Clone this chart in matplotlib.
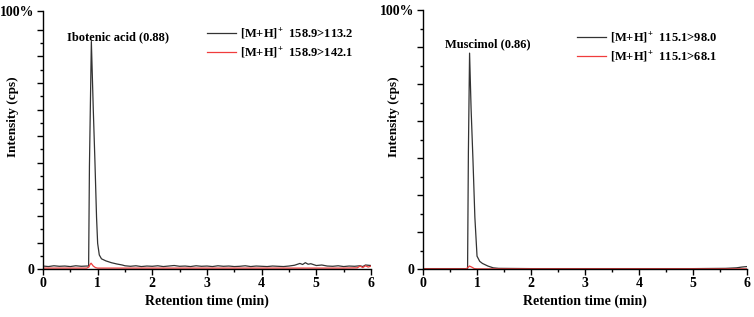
import matplotlib.pyplot as plt
import numpy as np

plt.rcParams['font.family'] = ['Liberation Serif', 'DejaVu Serif']
plt.rcParams['font.weight'] = 'bold'
plt.rcParams['mathtext.fontset'] = 'custom'
plt.rcParams['mathtext.rm'] = 'Liberation Serif:bold'
plt.rcParams['mathtext.bf'] = 'Liberation Serif:bold'
plt.rcParams['mathtext.default'] = 'bf'

# ---- Ibotenic acid (left panel), intensity as fraction of 100% ----
ibo_t = [0, 0.1, 0.2, 0.3, 0.4, 0.5, 0.6, 0.7, 0.8, 0.835, 0.85, 0.885,
         0.92, 0.95, 0.98, 1.0, 1.03, 1.07, 1.15, 1.25, 1.35, 1.45, 1.5,
         1.6, 1.7, 1.8, 1.9, 2.0, 2.1, 2.2, 2.3, 2.4, 2.5, 2.6, 2.7, 2.8, 2.9,
         3.0, 3.1, 3.2, 3.3, 3.4, 3.5, 3.6, 3.7, 3.8, 3.9, 4.0, 4.1, 4.2, 4.3,
         4.4, 4.5, 4.6, 4.7, 4.75, 4.8, 4.85, 4.9, 5.0, 5.1, 5.2, 5.3, 5.4,
         5.5, 5.6, 5.7, 5.8, 5.85, 5.9, 6.0]
ibo_main = [0.012, 0.010, 0.013, 0.011, 0.012, 0.010, 0.013, 0.011, 0.012, 0.012,
            0.40, 0.882, 0.62, 0.42, 0.20, 0.10, 0.055, 0.040, 0.032, 0.025,
            0.020, 0.016, 0.013,
            0.011, 0.013, 0.010, 0.012, 0.011, 0.013, 0.010, 0.012, 0.014, 0.011,
            0.012, 0.010, 0.013, 0.011, 0.012, 0.010, 0.013, 0.011, 0.012, 0.010,
            0.011, 0.013, 0.010, 0.012, 0.011, 0.010, 0.012, 0.011, 0.010, 0.012,
            0.015, 0.022, 0.018, 0.025, 0.019, 0.021, 0.014, 0.016, 0.012, 0.011,
            0.013, 0.010, 0.012, 0.011, 0.013, 0.010, 0.016, 0.014]
ibo_red_t = [0, 0.4, 0.8, 0.84, 0.86, 0.88, 0.92, 0.96, 1.0, 1.5, 2.0, 2.5,
             3.0, 3.5, 4.0, 4.5, 5.0, 5.5, 5.75, 5.8, 5.85, 5.9, 5.95, 6.0]
ibo_red = [0.004, 0.004, 0.004, 0.008, 0.018, 0.023, 0.012, 0.006, 0.004, 0.004,
           0.004, 0.004, 0.004, 0.004, 0.004, 0.004, 0.004, 0.004, 0.005, 0.012,
           0.006, 0.013, 0.008, 0.012]

# ---- Muscimol (right panel) ----
mus_t = [0, 0.5, 0.8, 0.825, 0.84, 0.862, 0.89, 0.925, 0.96, 1.0, 1.05, 1.1,
         1.2, 1.3, 1.4, 2.0, 3.0, 4.0, 5.0, 5.6, 5.8, 5.9, 6.0]
mus_main = [0.002, 0.002, 0.002, 0.002, 0.45, 0.834, 0.62, 0.42, 0.20, 0.05,
            0.030, 0.022, 0.012, 0.005, 0.003, 0.002, 0.002, 0.002, 0.002,
            0.003, 0.005, 0.008, 0.010]
mus_red_t = [0, 0.8, 0.84, 0.86, 0.9, 0.95, 1.0, 6.0]
mus_red = [0.001, 0.001, 0.008, 0.012, 0.008, 0.002, 0.001, 0.001]

panels = [
    dict(t=ibo_t, y=ibo_main, rt=ibo_red_t, ry=ibo_red, n=9.7,
         name='Ibotenic acid (0.88)', name_xy=(1.37, 0.90),
         labels=['[M+H]$^{+}$  158.9>113.2', '[M+H]$^{+}$  158.9>142.1'],
         leg_anchor=(0.467, 0.983),
         rect=[0.057, 0.151, 0.435, 0.814]),
    dict(t=mus_t, y=mus_main, rt=mus_red_t, ry=mus_red, n=7,
         name='Muscimol (0.86)', name_xy=(1.2, 0.87),
         labels=['[M+H]$^{+}$  115.1>98.0', '[M+H]$^{+}$  115.1>68.1'],
         leg_anchor=(0.441, 0.963),
         rect=[0.561, 0.151, 0.430, 0.817]),
]

fig = plt.figure(figsize=(7.54, 3.17), dpi=100)

for p in panels:
    ax = fig.add_axes(p['rect'])
    ax.plot(p['t'], p['y'], color='#333333', lw=0.9, label=p['labels'][0])
    ax.plot(p['rt'], p['ry'], color='#f03c3c', lw=0.9, label=p['labels'][1])
    ax.set_xlim(0, 6)
    ax.set_ylim(0, 1)
    for s in ['top', 'right']:
        ax.spines[s].set_visible(False)
    ax.spines['left'].set_linewidth(1.0)
    ax.spines['bottom'].set_linewidth(1.0)

    step = 1.0 / p['n']
    majors = [0] + [k * step for k in range(1, int(np.floor(p['n'] - 0.01)) + 1)] + [1]
    labels = ['0'] + [''] * (len(majors) - 2) + ['100%']
    ax.set_yticks(majors)
    ax.set_yticklabels(labels)
    ax.set_yticks([(k + 0.5) * step for k in range(int(p['n'])) if (k + 0.5) * step < 0.995],
                  minor=True)
    ax.set_xticks(range(7))
    ax.set_xticks(np.arange(0.5, 6, 1.0), minor=True)
    ax.tick_params(which='major', direction='out', length=4, width=1, labelsize=10, pad=2)
    ax.tick_params(which='minor', direction='out', length=2, width=1)
    ax.set_xlabel('Retention time (min)', fontsize=10, fontweight='bold', labelpad=3)
    ax.set_ylabel('Intensity (cps)', fontsize=9.5, fontweight='bold')
    ax.yaxis.set_label_coords(-0.072, 0.59)
    ax.text(p['name_xy'][0], p['name_xy'][1], p['name'], ha='center', va='center',
            fontsize=9, fontweight='bold')
    ax.legend(loc='upper left', bbox_to_anchor=p['leg_anchor'], frameon=False,
              fontsize=9, handlelength=2.3, handletextpad=0.3,
              labelspacing=0.35)

fig.savefig('out.png', dpi=100)
